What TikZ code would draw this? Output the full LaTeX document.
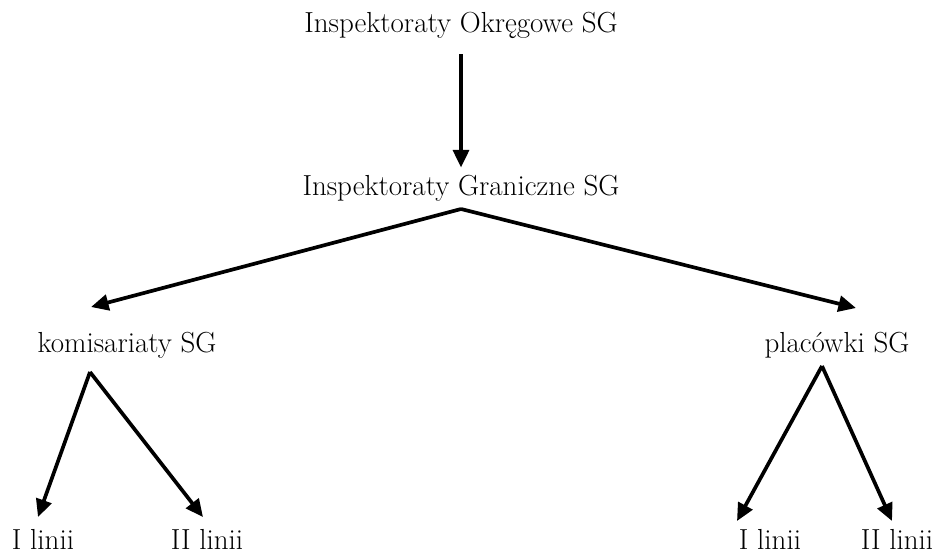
\documentclass[tikz,border=0pt]{standalone}
\usetikzlibrary{arrows.meta}

\tikzstyle{unit}=[inner sep=0pt, font=\fontsize{16.5}{20}\selectfont]
\tikzstyle{link}=[draw, line width=2.1pt, -{Triangle[length=10pt,width=9pt]}]

\begin{document}
\begin{tikzpicture}[x=0.02cm, y=-0.02cm]
		\useasboundingbox (0,0) rectangle (939,556);
		\node [unit] (okreg)  at (461, 25)  {Inspektoraty Okręgowe SG};
		\node [unit] (gran)   at (461,188)  {Inspektoraty Graniczne SG};
		\node [unit] (kom)    at (127,345)  {komisariaty SG};
		\node [unit] (plac)   at (837,345)  {placówki SG};
		\node [unit] (komI)   at ( 43,539)  {I linii};
		\node [unit] (komII)  at (207,539)  {II linii};
		\node [unit] (placI)  at (770,539)  {I linii};
		\node [unit] (placII) at (897,539)  {II linii};

		\coordinate (gsplit)  at (461,209);
		\coordinate (ksplit)  at ( 90,372);
		\coordinate (psplit)  at (822,366);
		\coordinate (ktip)    at ( 91,307);
		\coordinate (ptip)    at (856,308);
		\coordinate (kItip)   at ( 38,517);
		\coordinate (kIItip)  at (203,517);
		\coordinate (pItip)   at (737,521);
		\coordinate (pIItip)  at (892,521);

		\draw [link, shorten <=9pt, shorten >=4pt] (okreg) -- (gran);
		\draw [link] (gsplit) -- (ktip);
		\draw [link] (gsplit) -- (ptip);
		\draw [link] (ksplit) -- (kItip);
		\draw [link] (ksplit) -- (kIItip);
		\draw [link] (psplit) -- (pItip);
		\draw [link] (psplit) -- (pIItip);
	\end{tikzpicture}
\end{document}
